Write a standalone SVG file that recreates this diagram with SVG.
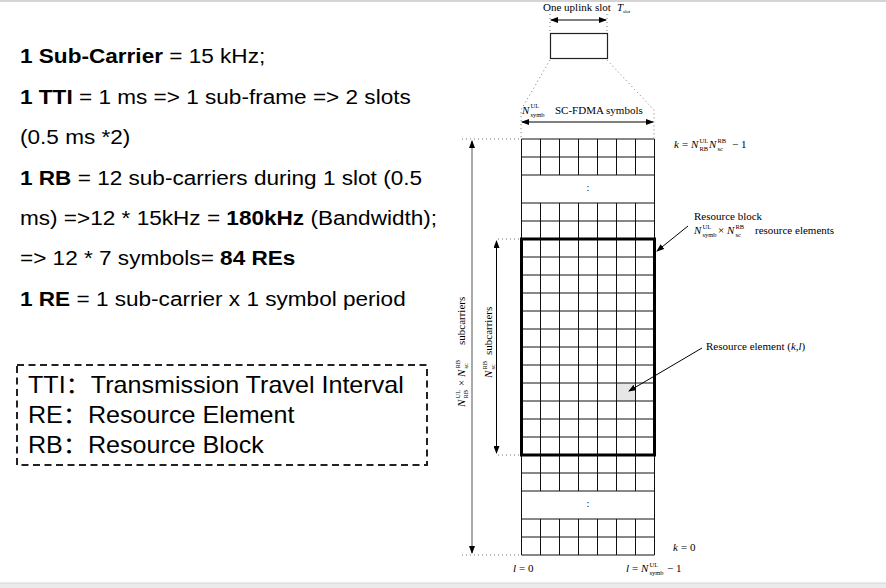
<svg xmlns="http://www.w3.org/2000/svg" width="886" height="588" viewBox="0 0 886 588">
<style>
.t{font-family:"Liberation Sans",Arial,sans-serif;fill:#000}
.b{font-weight:bold}
.s{font-family:"Liberation Serif","Times New Roman",serif;font-size:11px;fill:#000}
.i{font-style:italic}
.sm{font-family:"Liberation Serif","Times New Roman",serif;font-size:6.5px;fill:#000}
.g{stroke:#111;stroke-width:1;fill:none}
.dot{stroke:#777;stroke-width:1;stroke-dasharray:1 3;fill:none}
.ar{stroke:#000;stroke-width:1;fill:none}
</style>
<defs>
<marker id="ah" markerWidth="8" markerHeight="6" refX="7" refY="3" orient="auto-start-reverse" markerUnits="userSpaceOnUse">
<path d="M0,0 L8,3 L0,6 z" fill="#000"/>
</marker>
</defs>
<rect width="886" height="588" fill="#fff"/>
<rect x="0" y="0" width="886" height="2" fill="#d4d4d4"/>
<rect x="0" y="583" width="886" height="5" fill="#ebebeb"/>
<line x1="0" y1="583" x2="886" y2="583" stroke="#d6d6d6"/>

<g id="left-text">
<text class="t" font-size="21" transform="scale(1.075 1)">
<tspan x="18.6" y="63"><tspan class="b">1 Sub-Carrier</tspan> = 15 kHz;</tspan>
<tspan x="18.6" y="104"><tspan class="b">1 TTI</tspan> = 1 ms =&gt; 1 sub-frame =&gt; 2 slots</tspan>
<tspan x="18.6" y="144">(0.5 ms *2)</tspan>
<tspan x="18.6" y="185"><tspan class="b">1 RB</tspan> = 12 sub-carriers during 1 slot (0.5</tspan>
<tspan x="18.6" y="225">ms) =&gt;12 * 15kHz = <tspan class="b">180kHz</tspan> (Bandwidth);</tspan>
<tspan x="18.6" y="265">=&gt; 12 * 7 symbols= <tspan class="b">84 REs</tspan></tspan>
<tspan x="18.6" y="306"><tspan class="b">1 RE</tspan> = 1 sub-carrier x 1 symbol period</tspan>
</text>
</g>

<g id="legend">
<rect x="17" y="365" width="410" height="100" fill="none" stroke="#222" stroke-width="2" stroke-dasharray="7 4.5"/>
<text font-family="'Liberation Sans','Noto Sans CJK SC',sans-serif" font-size="23" transform="scale(1.092 1)">
<tspan x="25.6" y="393">TTI：Transmission Travel Interval</tspan>
<tspan x="25.6" y="423">RE：Resource Element</tspan>
<tspan x="25.6" y="453">RB：Resource Block</tspan>
</text>
</g>

<g id="slot">
<text class="s" x="543" y="11">One uplink slot</text>
<text class="s i" x="617" y="11">T</text>
<text class="sm" x="623" y="13" style="font-size:5px">slot</text>
<rect x="550.5" y="33.5" width="57" height="25" fill="#fff" stroke="#222" stroke-width="1.2"/>
</g>

<g id="symb-label">
<text class="s i" x="522" y="114">N</text>
<text class="sm" x="530.5" y="108">UL</text>
<text class="sm" x="530.5" y="117">symb</text>
<text class="s" x="555" y="114">SC-FDMA symbols</text>
</g>

<g id="grid">
<rect x="616.5" y="383" width="19" height="18" fill="#e6e6e6"/>
<path class="g" d="M521.5,139H654.5M521.5,157H654.5M521.5,175H654.5M521.5,203H654.5M521.5,221H654.5M521.5,239H654.5
M521.5,257H654.5M521.5,275H654.5M521.5,293H654.5M521.5,311H654.5M521.5,329H654.5M521.5,347H654.5M521.5,365H654.5M521.5,383H654.5M521.5,401H654.5M521.5,419H654.5M521.5,437H654.5M521.5,455H654.5
M521.5,473H654.5M521.5,491H654.5M521.5,519H654.5M521.5,537H654.5M521.5,555H654.5"/>
<path class="g" d="M521.5,139V555M654.5,139V555
M540.5,139V175M559.5,139V175M578.5,139V175M597.5,139V175M616.5,139V175M635.5,139V175
M540.5,203V491M559.5,203V491M578.5,203V491M597.5,203V491M616.5,203V491M635.5,203V491
M540.5,519V555M559.5,519V555M578.5,519V555M597.5,519V555M616.5,519V555M635.5,519V555"/>
<text class="s" x="588" y="191" text-anchor="middle" style="font-size:10px">:</text>
<text class="s" x="588" y="507" text-anchor="middle" style="font-size:10px">:</text>
</g>

<g id="resource-block">
<rect x="521.5" y="239" width="133" height="216" fill="none" stroke="#000" stroke-width="3"/>
</g>

<g id="labels-right">
<text class="s i" x="674" y="148">k</text>
<text class="s" x="682" y="148">=</text>
<text class="s i" x="691" y="148">N</text>
<text class="sm" x="699.5" y="143">UL</text>
<text class="sm" x="699.5" y="151">RB</text>
<text class="s i" x="709" y="148">N</text>
<text class="sm" x="717.5" y="143">RB</text>
<text class="sm" x="717.5" y="151">sc</text>
<text class="s" x="732" y="148">− 1</text>

<text class="s" x="694" y="220">Resource block</text>
<text class="s i" x="694" y="234">N</text>
<text class="sm" x="702.5" y="229">UL</text>
<text class="sm" x="702.5" y="237">symb</text>
<text class="s" x="718" y="234">×</text>
<text class="s i" x="727" y="234">N</text>
<text class="sm" x="735.5" y="229">RB</text>
<text class="sm" x="735.5" y="237">sc</text>
<text class="s" x="755" y="234">resource elements</text>

<text class="s" x="706" y="350">Resource element  (<tspan class="i">k</tspan>,<tspan class="i">l</tspan>)</text>

<text class="s i" x="673" y="551">k</text>
<text class="s" x="681" y="551">= 0</text>
<text class="s i" x="513" y="572">l</text>
<text class="s" x="519" y="572">= 0</text>
<text class="s i" x="626" y="572">l</text>
<text class="s" x="632" y="572">=</text>
<text class="s i" x="641" y="572">N</text>
<text class="sm" x="649.5" y="567">UL</text>
<text class="sm" x="649.5" y="575">symb</text>
<text class="s" x="667" y="572">− 1</text>
</g>

<g id="labels-left-vertical">
<g transform="translate(465 407) rotate(-90)">
<text class="s i" x="0" y="0">N</text>
<text class="sm" x="8.5" y="-5">UL</text>
<text class="sm" x="8.5" y="3">RB</text>
<text class="s" x="21" y="0">×</text>
<text class="s i" x="30" y="0">N</text>
<text class="sm" x="38.5" y="-5">RB</text>
<text class="sm" x="38.5" y="3">sc</text>
<text class="s" x="62" y="0">subcarriers</text>
</g>
<g transform="translate(492 378) rotate(-90)">
<text class="s i" x="0" y="0">N</text>
<text class="sm" x="8.5" y="-5">RB</text>
<text class="sm" x="8.5" y="3">sc</text>
<text class="s" x="23" y="0">subcarriers</text>
</g>
</g>

<g id="connectors">
<path class="dot" d="M550,14V33M607,14V33"/>
<path class="dot" d="M550,60L521,110V138M607,60L654,110V138"/>
<path class="dot" d="M462,139H520M462,555H520M498,239H520M498,455H520"/>
<line class="ar" x1="551" y1="20" x2="606" y2="20" marker-start="url(#ah)" marker-end="url(#ah)"/>
<line class="ar" x1="522" y1="122" x2="653" y2="122" marker-start="url(#ah)" marker-end="url(#ah)"/>
<line x1="472" y1="141" x2="472" y2="553" stroke="#555" stroke-width="1" marker-start="url(#ah)" marker-end="url(#ah)"/>
<line class="ar" x1="496.5" y1="241" x2="496.5" y2="453" marker-start="url(#ah)" marker-end="url(#ah)"/>
<line class="ar" x1="688" y1="226" x2="657" y2="251" marker-end="url(#ah)"/>
<line class="ar" x1="702" y1="348" x2="629" y2="391" marker-end="url(#ah)"/>
</g>
</svg>
